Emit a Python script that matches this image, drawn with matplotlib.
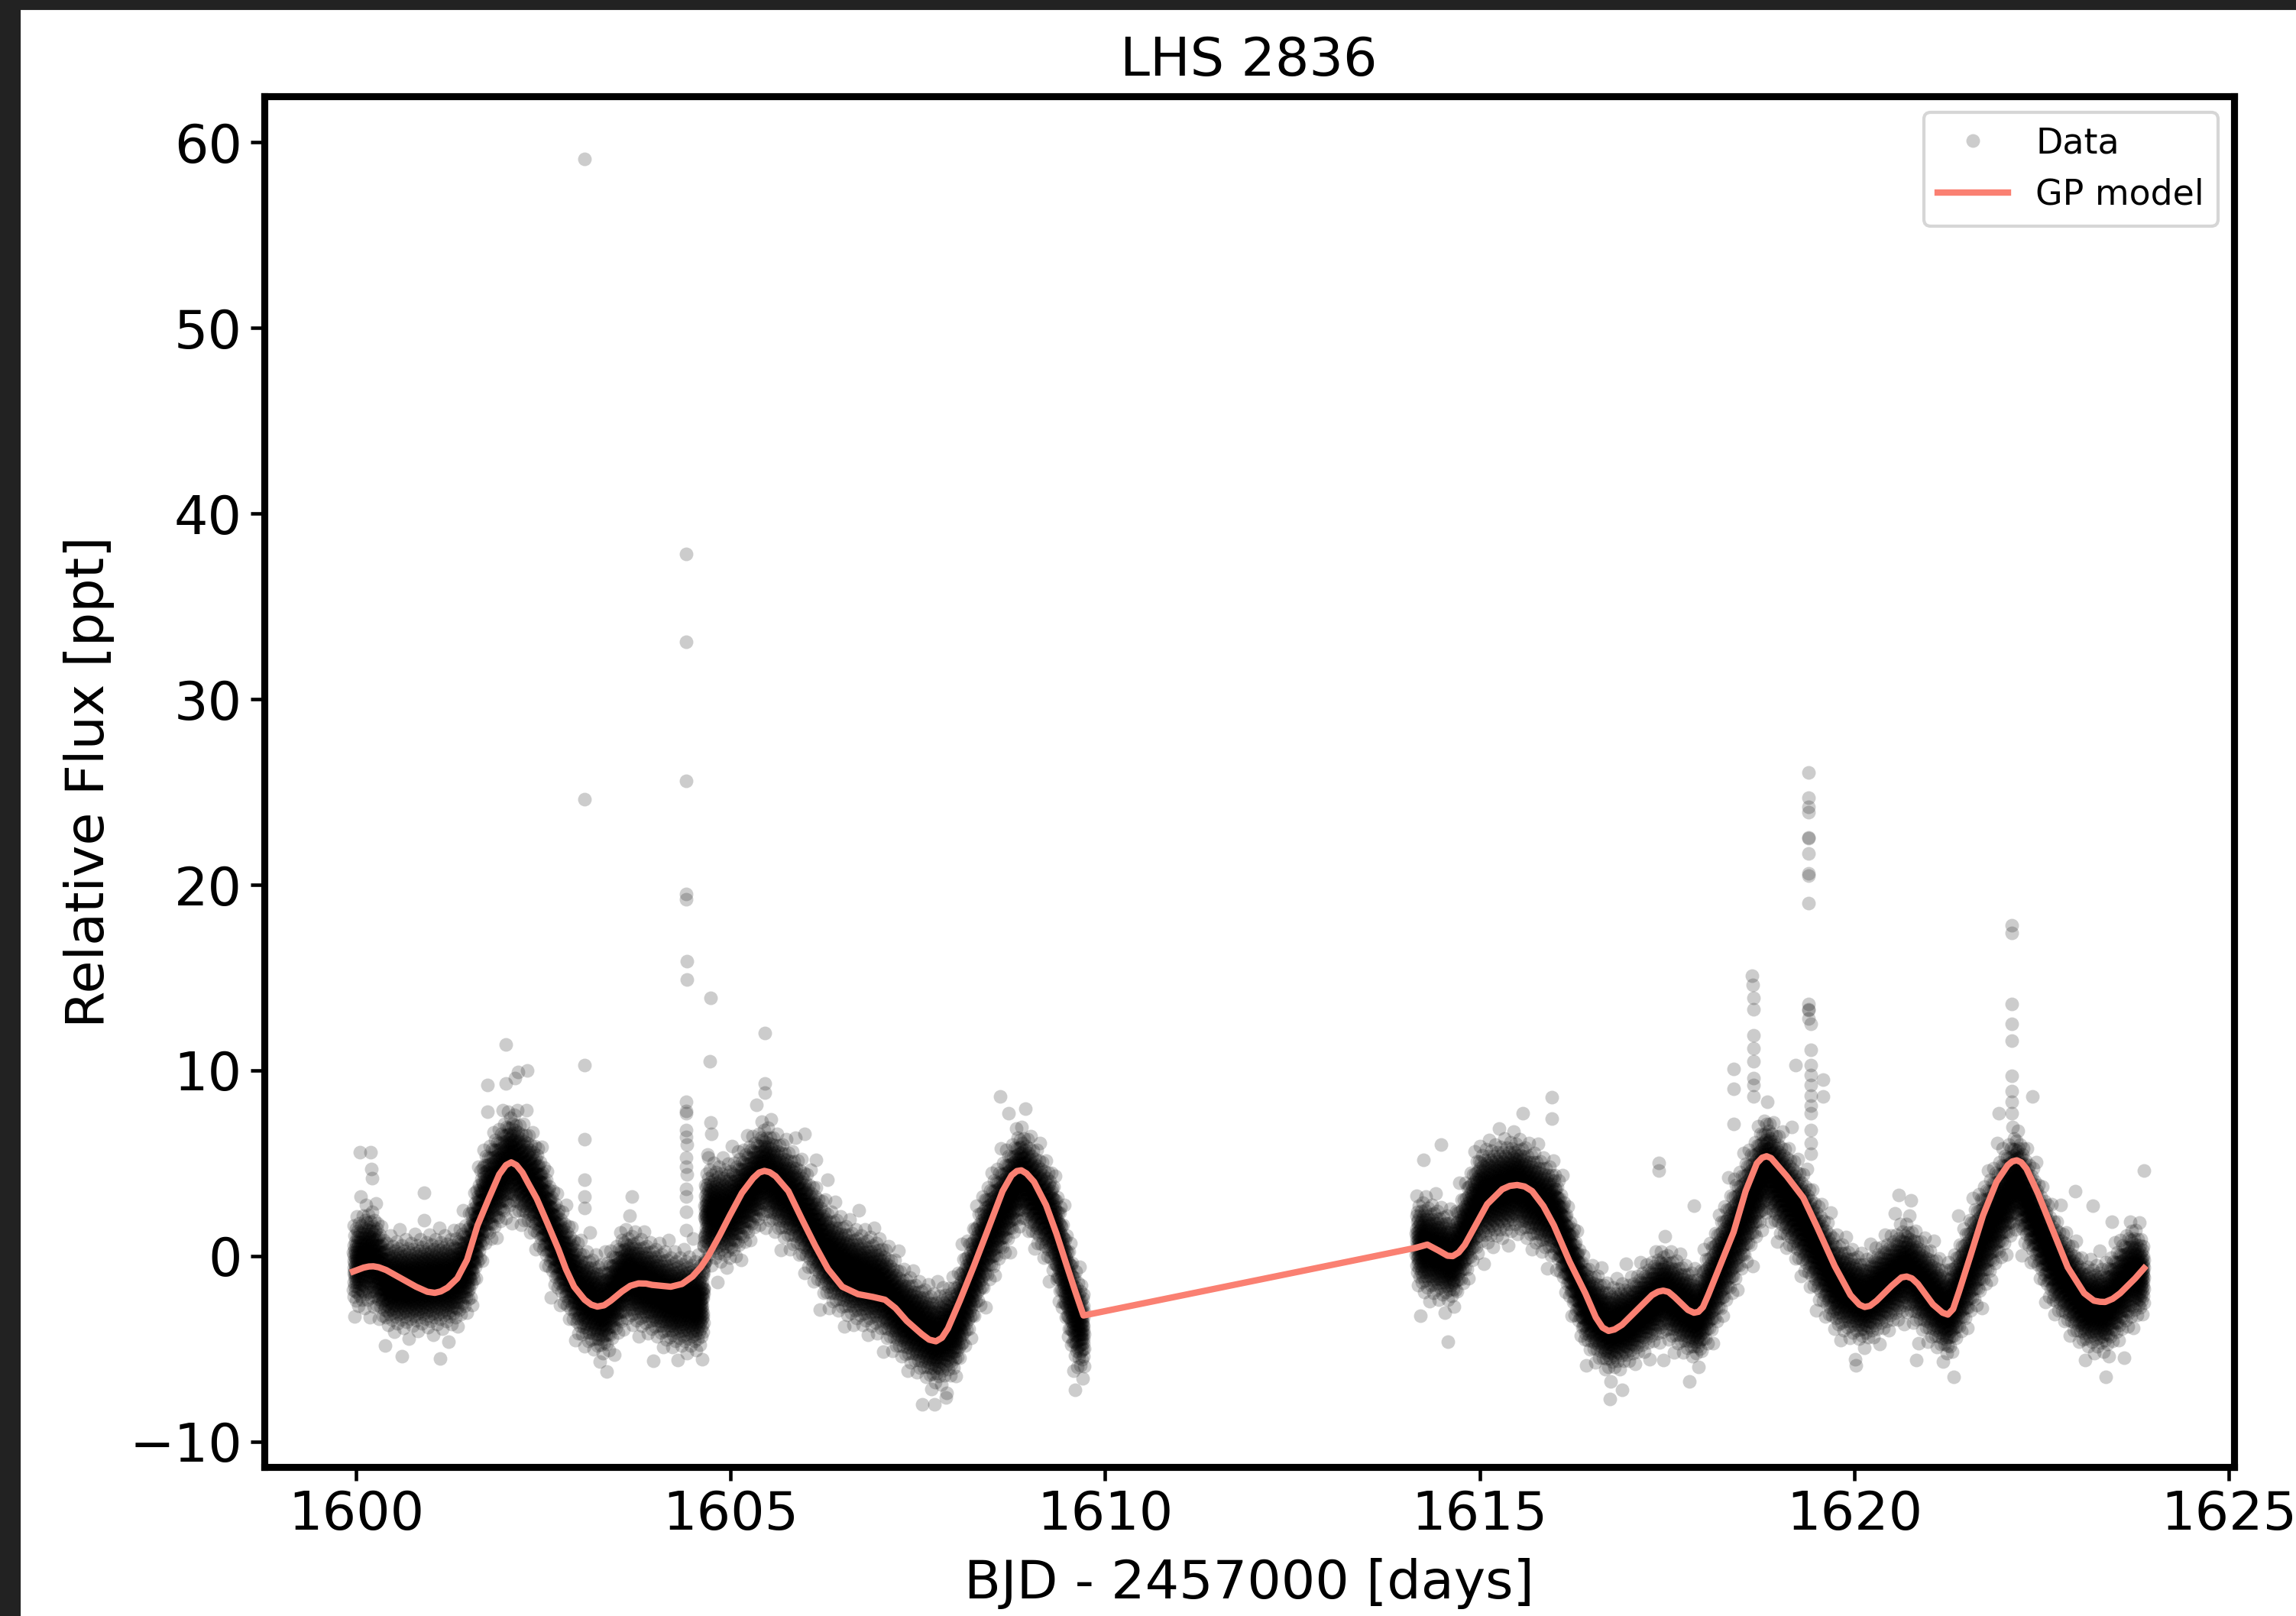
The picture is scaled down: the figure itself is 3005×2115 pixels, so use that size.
import numpy as np
import matplotlib
matplotlib.use("Agg")
import matplotlib.pyplot as plt
from matplotlib.patches import Rectangle
from statistics import NormalDist

# ---------------- text ----------------
title = "LHS 2836"
xlabel = "BJD - 2457000 [days]"
ylabel = "Relative Flux [ppt]"
xticks = [1600, 1605, 1610, 1615, 1620, 1625]
yticks = [-10, 0, 10, 20, 30, 40, 50, 60]

# ---------------- GP model ----------------
gp_time = [1599.96, 1600.10, 1600.17, 1600.23, 1600.30, 1600.40, 1600.60, 1600.80,
           1600.95, 1601.05, 1601.13, 1601.22, 1601.35, 1601.48, 1601.62, 1601.77,
           1601.91, 1602.00, 1602.07, 1602.14, 1602.22, 1602.30, 1602.41, 1602.55,
           1602.70, 1602.80, 1602.91, 1603.05, 1603.14, 1603.22, 1603.31, 1603.40,
           1603.55, 1603.66, 1603.77, 1603.87, 1603.95, 1604.20, 1604.35, 1604.49,
           1604.60, 1604.70, 1604.85, 1604.99, 1605.15, 1605.30, 1605.38, 1605.45,
           1605.52, 1605.60, 1605.77, 1605.95, 1606.13, 1606.30, 1606.49, 1606.70,
           1606.90, 1607.06, 1607.20, 1607.35, 1607.55, 1607.65, 1607.74, 1607.82,
           1607.90, 1608.06, 1608.25, 1608.42, 1608.63, 1608.75, 1608.82, 1608.88,
           1608.95, 1609.05, 1609.21, 1609.35, 1609.49, 1609.60, 1609.71,
           1614.15, 1614.30, 1614.45, 1614.57, 1614.64, 1614.72, 1614.80, 1614.95,
           1615.10, 1615.30, 1615.40, 1615.50, 1615.60, 1615.70, 1615.85, 1615.99,
           1616.20, 1616.41, 1616.55, 1616.64, 1616.72, 1616.80, 1616.90, 1617.10,
           1617.30, 1617.38, 1617.45, 1617.52, 1617.60, 1617.78, 1617.86, 1617.92,
           1617.98, 1618.05, 1618.20, 1618.39, 1618.55, 1618.70, 1618.77, 1618.83,
           1618.89, 1618.95, 1619.10, 1619.32, 1619.50, 1619.74, 1619.95, 1620.07,
           1620.14, 1620.21, 1620.30, 1620.50, 1620.63, 1620.70, 1620.77, 1620.85,
           1621.05, 1621.18, 1621.25, 1621.32, 1621.40, 1621.55, 1621.72, 1621.90,
           1622.05, 1622.11, 1622.17, 1622.23, 1622.30, 1622.45, 1622.66, 1622.85,
           1623.07, 1623.20, 1623.28, 1623.35, 1623.45, 1623.55, 1623.75, 1623.87]
gp_flux = [-0.83, -0.62, -0.56, -0.55, -0.60, -0.75, -1.20, -1.65,
           -1.92, -1.98, -1.90, -1.70, -1.20, -0.20, 1.65, 3.10,
           4.40, 4.90, 5.05, 4.90, 4.50, 3.90, 3.10, 1.80,
           0.37, -0.70, -1.65, -2.35, -2.62, -2.72, -2.65, -2.40,
           -1.90, -1.60, -1.47, -1.48, -1.55, -1.65, -1.50, -1.10,
           -0.60, 0.00, 1.10, 2.20, 3.40, 4.20, 4.50, 4.59,
           4.52, 4.30, 3.50, 2.00, 0.55, -0.70, -1.65, -2.05,
           -2.20, -2.35, -2.80, -3.49, -4.20, -4.50, -4.59, -4.40,
           -3.90, -2.40, -0.50, 1.28, 3.50, 4.35, 4.58, 4.62,
           4.45, 4.00, 2.75, 1.20, -0.55, -1.90, -3.20,
           0.45, 0.62, 0.30, 0.02, 0.00, 0.20, 0.60, 1.70,
           2.80, 3.60, 3.78, 3.83, 3.75, 3.50, 2.70, 1.66,
           -0.30, -2.00, -3.30, -3.85, -4.03, -3.95, -3.70, -2.90,
           -2.10, -1.92, -1.86, -1.93, -2.20, -2.90, -3.05, -3.00,
           -2.75, -2.10, -0.60, 1.30, 3.50, 5.00, 5.30, 5.38,
           5.28, 5.00, 4.30, 3.14, 1.60, -0.54, -2.10, -2.62,
           -2.74, -2.68, -2.40, -1.60, -1.15, -1.10, -1.20, -1.50,
           -2.60, -3.05, -3.15, -2.85, -1.90, 0.00, 2.20, 4.00,
           4.90, 5.10, 5.16, 5.05, 4.70, 3.40, 1.30, -0.60,
           -2.00, -2.40, -2.46, -2.47, -2.30, -2.00, -1.20, -0.65]

# ---------------- photometry: quiet band (centre and half-extent read at knots) ----
seg_start = [1599.96, 1614.15]
seg_end = [1609.72, 1623.87]
cloud_time = [1599.96, 1600.15, 1600.25, 1600.40, 1600.70, 1601.00, 1601.30, 1601.50,
              1601.70, 1602.07, 1602.40, 1602.70, 1603.00, 1603.30, 1603.60, 1603.90,
              1604.20, 1604.45, 1604.63, 1604.66, 1605.00, 1605.45, 1605.90, 1606.30,
              1606.60, 1607.00, 1607.30, 1607.74, 1608.00, 1608.40, 1608.88, 1609.30,
              1609.60, 1609.72,
              1614.15, 1614.40, 1614.65, 1615.00, 1615.50, 1616.00, 1616.40, 1616.72,
              1617.00, 1617.45, 1617.92, 1618.40, 1618.83, 1619.30, 1619.74, 1620.14,
              1620.70, 1621.25, 1621.72, 1622.17, 1622.66, 1623.07, 1623.35, 1623.70,
              1623.87]
cloud_center = [-0.5, 0.0, -0.2, -1.4, -1.5, -1.4, -1.3, -0.4,
                3.0, 5.3, 3.6, 0.4, -2.0, -2.9, -1.0, -1.6,
                -2.3, -2.5, -2.6, 2.3, 2.4, 4.6, 2.8, 0.1,
                -0.9, -1.6, -3.1, -4.5, -3.8, 1.0, 4.5, 1.9,
                -3.3, -4.0,
                0.75, 0.3, -0.2, 3.2, 3.9, 2.3, -2.5, -3.9,
                -3.5, -1.9, -3.3, 1.2, 5.0, 2.0, -1.4, -2.4,
                -0.6, -3.1, 1.0, 4.3, -0.3, -2.6, -2.8, -0.9,
                -1.0]
cloud_halfwidth = [2.8, 3.0, 3.0, 2.6, 2.6, 2.7, 2.7, 2.8,
                   3.0, 3.0, 3.0, 2.8, 2.8, 2.8, 2.8, 2.7,
                   2.8, 2.8, 2.8, 3.0, 3.0, 2.9, 2.9, 2.8,
                   2.8, 2.8, 2.6, 2.8, 2.8, 3.0, 2.8, 3.0,
                   3.0, 2.8,
                   2.8, 2.8, 2.6, 3.0, 2.8, 2.8, 2.5, 2.6,
                   2.4, 2.6, 2.6, 3.2, 3.0, 3.0, 2.8, 2.5,
                   2.8, 2.6, 3.2, 2.9, 2.8, 2.5, 2.6, 3.0,
                   2.2]

# ---------------- flares and isolated outliers ----------------
outlier_time = [1600.05, 1600.19, 1600.20, 1600.21, 1600.91, 1601.75, 1602.00, 1602.00,
                1602.12, 1602.16, 1602.28,
                1603.05, 1603.05, 1603.05, 1603.05, 1603.05, 1603.05, 1603.05, 1603.68,
                1604.40, 1604.40, 1604.41, 1604.41, 1604.41, 1604.42, 1604.42, 1604.40,
                1604.40, 1604.41, 1604.40, 1604.41, 1604.42, 1604.40, 1604.41, 1604.42,
                1604.40, 1604.41, 1604.40, 1604.41,
                1604.73, 1604.72, 1604.73, 1604.74, 1604.70,
                1605.46, 1605.46, 1605.46, 1605.99, 1606.14, 1606.29, 1608.60, 1608.71,
                1607.72, 1607.87, 1609.60, 1603.34, 1601.12, 1600.61,
                1618.63, 1618.64, 1618.66, 1618.66, 1618.66, 1618.66, 1618.66, 1618.66,
                1618.66, 1618.66, 1618.39, 1618.39, 1618.39,
                1619.39, 1619.39, 1619.39, 1619.39, 1619.39, 1619.39, 1619.39, 1619.39,
                1619.39, 1619.39, 1619.39, 1619.39, 1619.39, 1619.39, 1619.42, 1619.42,
                1619.42, 1619.42, 1619.42, 1619.42, 1619.42, 1619.42, 1619.42, 1619.42,
                1619.42,
                1619.22, 1619.58, 1619.58,
                1622.10, 1622.10, 1622.10, 1622.10, 1622.10, 1622.10, 1622.10, 1622.10,
                1622.10, 1622.38, 1621.93,
                1615.96, 1615.96, 1617.39, 1617.39, 1620.59, 1620.76, 1623.87, 1614.48,
                1614.25, 1617.86, 1623.18, 1623.44, 1622.95,
                1616.74, 1616.90, 1614.57, 1621.33, 1623.36, 1620.83, 1620.02, 1617.45]
outlier_flux = [5.6, 5.6, 4.7, 4.2, 3.4, 9.2, 11.4, 9.3,
                9.6, 9.9, 10.0,
                59.1, 24.6, 10.3, 6.3, 4.1, 3.2, 2.6, 3.2,
                37.8, 33.1, 25.6, 19.5, 19.2, 15.9, 14.9, 8.3,
                7.8, 7.7, 6.8, 6.4, 6.0, 5.3, 4.8, 4.4,
                3.6, 3.2, 2.4, 1.4,
                13.9, 10.5, 7.2, 6.6, 5.3,
                12.0, 9.3, 8.8, 6.6, 5.2, 4.1, 8.6, 7.7,
                -8.0, -7.6, -7.2, -6.2, -5.5, -5.4,
                15.1, 14.6, 13.9, 13.3, 11.9, 11.2, 10.5, 9.6,
                9.2, 8.6, 10.1, 9.0, 7.1,
                26.05, 24.7, 24.2, 23.9, 22.55, 22.5, 21.7, 20.6,
                20.5, 19.0, 13.6, 13.3, 13.25, 12.8, 12.5, 11.1,
                10.3, 9.75, 9.2, 8.65, 8.1, 7.7, 6.8, 6.1,
                5.5,
                10.3, 9.5, 8.6,
                17.8, 17.4, 13.6, 12.5, 11.6, 9.7, 8.9, 8.3,
                7.7, 8.6, 7.7,
                8.55, 7.4, 5.0, 4.6, 3.3, 3.0, 4.6, 6.0,
                5.2, 2.7, 2.7, 1.85, 3.5,
                -7.7, -7.2, -4.6, -6.5, -6.5, -5.6, -5.9, -5.6]

cadence_days = 2.0 / 1440.0          # TESS 2-minute cadence
sigma_per_halfwidth = 1.0 / 2.5      # band half-extent ~ 2.5 sigma

# ---------------- build photometric time series ----------------
ct = np.array(cloud_time)
cc = np.array(cloud_center)
ch = np.array(cloud_halfwidth)
times = []
for s, e in zip(seg_start, seg_end):
    times.append(np.arange(s, e, cadence_days))
t_data = np.concatenate(times)
n = len(t_data)
# deterministic (golden-ratio) sequence of normal quantiles for the scatter
nd = NormalDist()
phi = (np.sqrt(5.0) - 1.0) / 2.0
u = np.mod(0.5 + np.arange(1, n + 1) * phi, 1.0)
u = np.clip(u, 1e-4, 1 - 1e-4)
z = np.array([nd.inv_cdf(v) for v in u])
f_data = np.interp(t_data, ct, cc) + z * np.interp(t_data, ct, ch) * sigma_per_halfwidth

t_all = np.concatenate([t_data, outlier_time])
f_all = np.concatenate([f_data, outlier_flux])

# ---------------- figure ----------------
plt.rcParams["font.family"] = ["DejaVu Sans"]
fig = plt.figure(figsize=(3005 / 300, 2115 / 300), dpi=300)
ax = fig.add_axes([0.1150, 0.0922, 0.8580, 0.8482])

ax.plot(t_all, f_all, "o", color="k", alpha=0.2, ms=4.3, mew=0,
        label="Data", zorder=2)
ax.plot(gp_time, gp_flux, "-", color="salmon", lw=2.0, label="GP model", zorder=3)

ax.set_xlim(1598.77, 1625.07)
ax.set_ylim(-11.36, 62.47)
ax.set_xticks(xticks)
ax.set_yticks(yticks)

fs = 16.8
ax.set_title(title, fontsize=fs, pad=6.5)
ax.set_xlabel(xlabel, fontsize=fs, labelpad=5.5)
ax.set_ylabel(ylabel, fontsize=fs, labelpad=4.5)
ax.tick_params(axis="both", which="major", labelsize=fs, length=4.4, width=1.1,
               direction="out", pad=2.5)
for sp in ax.spines.values():
    sp.set_linewidth(2.2)

ax.legend(loc="upper right", fontsize=11.0, framealpha=0.8, edgecolor="0.8",
          borderaxespad=0.45)

# dark screenshot border (left and top)
fig.patches.append(Rectangle((0, 0), 25 / 3005, 1, transform=fig.transFigure,
                             color="#222222", zorder=10))
fig.patches.append(Rectangle((0, 1 - 11 / 2115), 1, 11 / 2115, transform=fig.transFigure,
                             color="#222222", zorder=10))

fig.savefig("out.png", dpi=300)
